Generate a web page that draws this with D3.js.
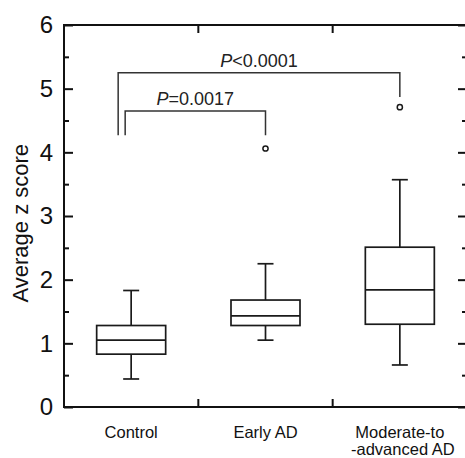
<!DOCTYPE html>
<html>
<head>
<meta charset="utf-8">
<script src="https://cdn.jsdelivr.net/npm/d3@7"></script>
<style>
  body { margin: 0; background: #fff; }
  svg, svg text { font-family: Arial, "Liberation Sans", sans-serif; }
  svg { display: block; }
  .frame { fill: none; stroke: #111; stroke-width: 2; }
  .axis path { display: none; }
  .axis line { stroke: #111; stroke-width: 2; }
  .box rect, .box line { stroke: #1a1a1a; stroke-width: 1.7; fill: none; }
  .bracket { fill: none; stroke: #333; stroke-width: 1.5; }
</style>
</head>
<body>
<div id="chart"></div>
<script>
// group names and box statistics
var categories = ['Control', 'Early AD', 'Moderate-to\n-advanced AD'];
var whiskerLow = [0.44, 1.05, 0.66];
var q1 = [0.83, 1.28, 1.30];
var median = [1.05, 1.43, 1.84];
var q3 = [1.28, 1.68, 2.51];
var whiskerHigh = [1.83, 2.25, 3.57];
var outliers = [[], [4.06], [4.71]];

var yTicks = [0, 1, 2, 3, 4, 5, 6];
var yMinorTicks = [0.5, 1.5, 2.5, 3.5, 4.5, 5.5];

// significance brackets: groups compared, level of the bar, level of each foot
var bracketFrom = [0, 0];
var bracketTo = [2, 1];
var bracketTop = [5.25, 4.65];
var bracketFootFrom = [4.27, 4.27];
var bracketFootTo = [4.87, 4.27];
var bracketLabel = [['P', '<0.0001'], ['P', '=0.0017']];

function css_function(n) {
  return n + '(' + Array.prototype.slice.call(arguments, 1).join(', ') + ')';
}

var size = { frameWidth: 465, frameHeight: 458 };
var plot = { left: 64, top: 25, right: 467, bottom: 407 };

var svg = d3.select('#chart').append('svg')
  .attr('width', size.frameWidth)
  .attr('height', size.frameHeight);

var x = d3.scaleBand()
  .domain(categories)
  .range([plot.left, plot.right])
  .padding(0);

var y = d3.scaleLinear()
  .domain([0, 6])
  .range([plot.bottom, plot.top]);

function cx(i) {
  return x(categories[i]) + x.bandwidth() / 2;
}

// y axes, ticks pointing inward
svg.append('g')
  .attr('class', 'axis')
  .attr('transform', css_function('translate', plot.left, 0))
  .call(d3.axisLeft(y).tickValues(yTicks).tickSize(-9).tickPadding(11).tickFormat(d3.format('d')))
  .call(function(g) {
    g.attr('font-family', null);
    g.selectAll('text')
      .attr('fill', '#111')
      .style('font-size', '24px');
  });

svg.append('g')
  .attr('class', 'axis')
  .attr('transform', css_function('translate', plot.left, 0))
  .call(d3.axisLeft(y).tickValues(yMinorTicks).tickSize(-5).tickFormat(''));

svg.append('g')
  .attr('class', 'axis')
  .attr('transform', css_function('translate', plot.right, 0))
  .call(d3.axisRight(y).tickValues(yTicks).tickSize(-9).tickFormat(''));

svg.append('g')
  .attr('class', 'axis')
  .attr('transform', css_function('translate', plot.right, 0))
  .call(d3.axisRight(y).tickValues(yMinorTicks).tickSize(-5).tickFormat(''));

// x axis labels
var xAxisG = svg.append('g')
  .attr('class', 'axis')
  .attr('transform', css_function('translate', 0, plot.bottom))
  .call(d3.axisBottom(x).tickSize(0).tickPadding(0));

xAxisG.attr('font-family', null);
xAxisG.selectAll('text').each(function(d) {
  var t = d3.select(this);
  var lines = d.split('\n');
  t.text(null)
    .attr('y', 0)
    .attr('dy', null)
    .attr('fill', '#111')
    .style('font-size', '16.5px');
  lines.forEach(function(line, i) {
    t.append('tspan')
      .attr('x', i === 0 ? 0 : 3)
      .attr('y', 31 + i * 17)
      .text(line);
  });
});

// category boundary ticks, top and bottom
var boundaries = categories.slice(1).map(function(c) { return x(c); });
svg.selectAll('line.btick')
  .data(boundaries)
  .enter()
  .append('line')
  .attr('class', 'btick')
  .attr('x1', function(d) { return d; })
  .attr('x2', function(d) { return d; })
  .attr('y1', plot.bottom)
  .attr('y2', plot.bottom - 8)
  .attr('stroke', '#111')
  .attr('stroke-width', 2);

svg.selectAll('line.ttick')
  .data(boundaries)
  .enter()
  .append('line')
  .attr('class', 'ttick')
  .attr('x1', function(d) { return d; })
  .attr('x2', function(d) { return d; })
  .attr('y1', plot.top)
  .attr('y2', plot.top + 8)
  .attr('stroke', '#111')
  .attr('stroke-width', 2);

// frame
svg.append('rect')
  .attr('class', 'frame')
  .attr('x', plot.left)
  .attr('y', plot.top)
  .attr('width', plot.right - plot.left)
  .attr('height', plot.bottom - plot.top);

// axis title
svg.append('text')
  .attr('transform', css_function('translate', 28, y(2.95) + 4) + ' rotate(-90)')
  .attr('text-anchor', 'middle')
  .attr('fill', '#111')
  .style('font-size', '22px')
  .text('Average z score');

// boxes
var boxW = 69;
var capW = 16;

categories.forEach(function(c, i) {
  var g = svg.append('g').attr('class', 'box');
  var mx = cx(i);

  g.append('line')
    .attr('x1', mx).attr('x2', mx)
    .attr('y1', y(q3[i])).attr('y2', y(whiskerHigh[i]));
  g.append('line')
    .attr('x1', mx).attr('x2', mx)
    .attr('y1', y(q1[i])).attr('y2', y(whiskerLow[i]));
  g.append('line')
    .attr('x1', mx - capW / 2).attr('x2', mx + capW / 2)
    .attr('y1', y(whiskerHigh[i])).attr('y2', y(whiskerHigh[i]));
  g.append('line')
    .attr('x1', mx - capW / 2).attr('x2', mx + capW / 2)
    .attr('y1', y(whiskerLow[i])).attr('y2', y(whiskerLow[i]));
  g.append('rect')
    .attr('x', mx - boxW / 2)
    .attr('y', y(q3[i]))
    .attr('width', boxW)
    .attr('height', y(q1[i]) - y(q3[i]));
  g.append('line')
    .attr('x1', mx - boxW / 2).attr('x2', mx + boxW / 2)
    .attr('y1', y(median[i])).attr('y2', y(median[i]));

  g.selectAll('circle')
    .data(outliers[i])
    .enter()
    .append('circle')
    .attr('cx', mx)
    .attr('cy', function(d) { return y(d); })
    .attr('r', 2.6)
    .attr('fill', '#fff')
    .attr('stroke', '#1a1a1a')
    .attr('stroke-width', 1.5);
});

// significance brackets
var footOffset = [-13, -6];
bracketTop.forEach(function(top, k) {
  var x1 = cx(bracketFrom[k]) + footOffset[k];
  var x2 = cx(bracketTo[k]);
  var path = d3.path();
  path.moveTo(x1, y(bracketFootFrom[k]));
  path.lineTo(x1, y(top));
  path.lineTo(x2, y(top));
  path.lineTo(x2, y(bracketFootTo[k]));

  svg.append('path')
    .attr('class', 'bracket')
    .attr('d', path.toString());

  var label = svg.append('text')
    .attr('x', (x1 + x2) / 2)
    .attr('y', y(top) - 6)
    .attr('text-anchor', 'middle')
    .attr('fill', '#222')
    .style('font-size', '18px');
  label.append('tspan')
    .style('font-style', 'italic')
    .text(bracketLabel[k][0]);
  label.append('tspan')
    .text(bracketLabel[k][1]);
});
</script>
</body>
</html>
